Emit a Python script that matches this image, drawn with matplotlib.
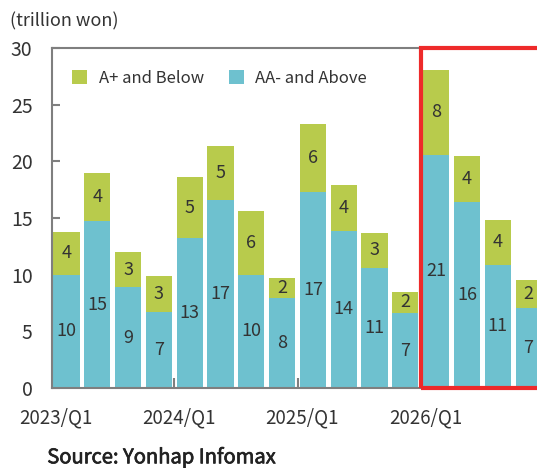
import numpy as np
import matplotlib.pyplot as plt
import matplotlib.patheffects as pe
from matplotlib.patches import Rectangle

plt.rcParams['font.family'] = ['Noto Sans CJK KR', 'DejaVu Sans']

quarters = ['2023/Q1', '2023/Q2', '2023/Q3', '2023/Q4',
            '2024/Q1', '2024/Q2', '2024/Q3', '2024/Q4',
            '2025/Q1', '2025/Q2', '2025/Q3', '2025/Q4',
            '2026/Q1', '2026/Q2', '2026/Q3', '2026/Q4']
aa_above = [10.0, 14.7, 8.9, 6.7, 13.2, 16.6, 10.0, 7.9,
            17.3, 13.9, 10.6, 6.6, 20.6, 16.4, 10.9, 7.1]
a_below = [3.8, 4.3, 3.1, 3.2, 5.4, 4.8, 5.6, 1.8,
           6.0, 4.0, 3.1, 1.9, 7.5, 4.1, 3.9, 2.4]
year_labels = ['2023/Q1', '2024/Q1', '2025/Q1', '2026/Q1']

green = '#b8cb4c'
blue = '#6ec1cf'
txt = '#333333'
grey = '#7f7f7f'

fig = plt.figure(figsize=(5.37, 4.68), dpi=100)
ax = fig.add_axes([0.0968, 0.171, 0.922, 0.726])

x = np.arange(len(quarters))
aa = np.array(aa_above)
ab = np.array(a_below)
ax.bar(x, aa, width=0.85, color=blue, label='AA- and Above', zorder=2)
ax.bar(x, ab, width=0.85, bottom=aa, color=green, label='A+ and Below', zorder=2)

for i in range(len(x)):
    ax.text(x[i], aa[i] / 2, '%d' % round(aa[i]), ha='center', va='center',
            fontsize=13, color=txt, zorder=3)
    ax.text(x[i], aa[i] + ab[i] / 2, '%d' % round(ab[i]), ha='center', va='center',
            fontsize=13, color=txt, zorder=3)

ax.set_xlim(-0.47, 15.6)
ax.set_ylim(0, 30)
ax.set_yticks(range(0, 31, 5))
ax.tick_params(axis='y', direction='in', length=6, width=1.5, color=grey,
               labelsize=14, labelcolor=txt, pad=14)
ax.set_xticks([i - 0.35 for i in range(0, 16, 4)])
ax.set_xticklabels(year_labels)
ax.tick_params(axis='x', length=0, labelsize=13.5, labelcolor=txt, pad=14)
ax.set_xticks([3.5, 7.5, 11.5], minor=True)
ax.tick_params(axis='x', which='minor', direction='in', length=7, width=1.5, color=grey)

for s in ['left', 'bottom', 'top']:
    ax.spines[s].set_color(grey)
    ax.spines[s].set_linewidth(1.5)
ax.spines['right'].set_visible(False)

# highlight box around the 2026 quarters
ax.add_patch(Rectangle((11.5, 0), 5, 30, fill=False, edgecolor='#ee2a2a',
                       linewidth=3, zorder=4, clip_on=False))

h, l = ax.get_legend_handles_labels()
leg = ax.legend(h[::-1], l[::-1], loc='upper left', bbox_to_anchor=(0.01, 0.98), ncol=2,
                frameon=False, fontsize=12, handlelength=0.9, handleheight=0.9,
                columnspacing=1.5, handletextpad=0.7)
for t in leg.get_texts():
    t.set_color(txt)

fig.text(0.019, 0.943, '(trillion won)', fontsize=13, color=txt)
src = fig.text(0.088, 0.01, 'Source: Yonhap Infomax', fontsize=14.5, color='#222222')
src.set_path_effects([pe.withStroke(linewidth=0.5, foreground='#222222')])

plt.savefig('out.png', dpi=100)
